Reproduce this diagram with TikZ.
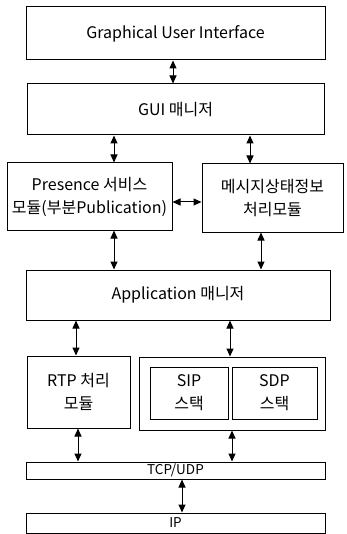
\documentclass[tikz,border=0pt]{standalone}
\usepackage{fontspec}
\setmainfont{Noto Sans CJK KR}
\usetikzlibrary{arrows.meta}
\begin{document}
\begin{tikzpicture}[x=1pt,y=-1pt,
  box/.style={draw=black,line width=1pt,rectangle,inner sep=0pt,align=center,font=\fontsize{16}{23}\selectfont},
  dbl/.style={{Triangle[length=8pt,width=7pt]}-{Triangle[length=8pt,width=7pt]},line width=1pt}]
\useasboundingbox (0,0) rectangle (347,534);
\node[box,minimum width=299pt,minimum height=53pt] (gui) at (175.5,33.5) {Graphical User Interface};
\node[box,minimum width=297pt,minimum height=51pt] (mgr) at (175.5,109.5) {GUI 매니저};
\node[box,minimum width=165pt,minimum height=67pt] (pres) at (89.5,196.5) {Presence 서비스\\모듈(부분Publication)};
\node[box,minimum width=141pt,minimum height=68pt] (msg) at (272.5,198) {메시지상태정보\\처리모듈};
\node[box,minimum width=304pt,minimum height=50pt] (app) at (178,295) {Application 매니저};
\node[box,minimum width=103pt,minimum height=72pt] (rtp) at (78.5,392) {RTP 처리\\모듈};
\node[box,minimum width=186pt,minimum height=73pt] (stack) at (232,393.5) {};
\node[box,minimum width=78pt,minimum height=52pt] (sip) at (189,393) {SIP\\스택};
\node[box,minimum width=85pt,minimum height=52pt] (sdp) at (274.5,393) {SDP\\스택};
\node[box,minimum width=299pt,minimum height=17pt,font=\fontsize{13.5}{15}\selectfont] (tcp) at (175.5,470.5) {TCP/UDP};
\node[box,minimum width=299pt,minimum height=20pt,font=\fontsize{13.5}{15}\selectfont] (ip) at (175.5,523) {IP};
\draw[dbl] (gui.south -| 173,0) -- (mgr.north -| 173,0);
\draw[dbl] (mgr.south -| 114,0) -- (pres.north -| 114,0);
\draw[dbl] (mgr.south -| 250,0) -- (msg.north -| 250,0);
\draw[dbl] (pres.east |- 0,202) -- (msg.west |- 0,202);
\draw[dbl] (pres.south -| 114,0) -- (app.north -| 114,0);
\draw[dbl] (msg.south -| 261,0) -- (app.north -| 261,0);
\draw[dbl] (app.south -| 76,0) -- (rtp.north -| 76,0);
\draw[dbl] (app.south -| 230,0) -- (stack.north -| 230,0);
\draw[dbl] (rtp.south -| 78,0) -- (tcp.north -| 78,0);
\draw[dbl] (stack.south -| 232,0) -- (tcp.north -| 232,0);
\draw[dbl] (tcp.south -| 182,0) -- (ip.north -| 182,0);
\end{tikzpicture}
\end{document}
